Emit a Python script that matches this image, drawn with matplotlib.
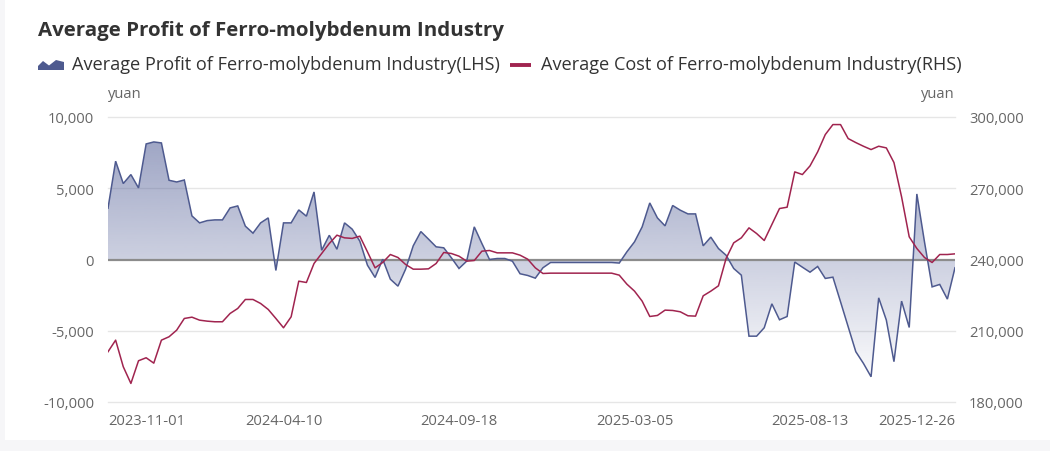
import matplotlib
matplotlib.use('Agg')
import matplotlib.pyplot as plt
import numpy as np
from matplotlib.patches import Polygon, Rectangle
from matplotlib.ticker import FuncFormatter

# ---------------- data ----------------
profit = [3600, 6900, 5330, 5960, 5020, 8110, 8250, 8180, 5560, 5440,
          5580, 3060, 2570, 2730, 2780, 2780, 3620, 3760, 2340, 1850,
          2570, 2920, -770, 2570, 2570, 3480, 3040, 4740, 650, 1700,
          720, 2570, 2130, 1290, -400, -1260, 20, -1380, -1870, -680,
          960, 1960, 1430, 890, 820, 120, -630, -120, 2290, 1120,
          0, 70, 70, -120, -1000, -1120, -1310, -580, -210, -210,
          -210, -210, -210, -210, -210, -210, -210, -250, 540, 1240,
          2290, 3970, 2920, 2360, 3790, 3460, 3200, 3200, 960, 1570,
          770, 300, -630, -1100, -5380, -5380, -4790, -3110, -4230, -4000,
          -180, -540, -890, -490, -1330, -1240, -2970, -4720, -6470, -7290,
          -8230, -2690, -4250, -7170, -2920, -4770, 4600, 1240, -1920, -1750,
          -2780, -580]

cost = [201160, 206040, 194850, 187820, 197370, 198630, 196360, 206040, 207470, 210250,
        215170, 215720, 214460, 214040, 213780, 213780, 217280, 219380, 223170, 223170,
        221480, 218960, 215170, 211250, 215870, 230880, 230320, 238320, 242520, 246730,
        250240, 249120, 248880, 249820, 243230, 236490, 238740, 242100, 240840, 237900,
        235930, 235930, 236070, 238320, 242950, 242520, 241400, 239300, 239580, 243510,
        243790, 242800, 242800, 242800, 241820, 240140, 236490, 234110, 234250, 234250,
        234250, 234250, 234250, 234250, 234250, 234250, 234250, 233410, 229620, 226680,
        222470, 216010, 216440, 218680, 218540, 217980, 216300, 216160, 224710, 226680,
        228920, 240420, 247010, 249120, 253320, 250940, 248000, 254730, 261460, 262020,
        276890, 275770, 279410, 285310, 292600, 296810, 296810, 290920, 289230, 287690,
        286290, 287690, 286990, 280820, 266370, 249540, 244630, 240840, 238740, 242100,
        242100, 242380]

tick_labels = ['2023-11-01', '2024-04-10', '2024-09-18', '2025-03-05', '2025-08-13', '2025-12-26']
label_interval = 23

left_ticks = [-10000, -5000, 0, 5000, 10000]
right_ticks = [180000, 210000, 240000, 270000, 300000]

title = 'Average Profit of Ferro-molybdenum Industry'
name_profit = 'Average Profit of Ferro-molybdenum Industry(LHS)'
name_cost = 'Average Cost of Ferro-molybdenum Industry(RHS)'

# ---------------- style ----------------
W, H = 1050, 452
FONT = 'Open Sans'
plt.rcParams['font.family'] = [FONT, 'DejaVu Sans']
C_PROFIT = '#4e5a8f'
C_COST = '#a0244f'
C_TICK = '#666666'
C_GRID = '#e6e6e6'


def px(x, y):
    return (x / W, 1 - y / H)


fig = plt.figure(figsize=(W / 100, H / 100), dpi=100)
fig.patch.set_facecolor('#f6f6f8')
card = Rectangle(px(5, 441), (W - 5) / W, 441 / H, transform=fig.transFigure,
                 facecolor='white', edgecolor='none', zorder=-5)
fig.patches.append(card)

L, R, T, B = 108, 955, 118, 403
ax = fig.add_axes([L / W, (H - B) / H, (R - L) / W, (B - T) / H])
ax.patch.set_alpha(0)
n = len(profit)
x = np.arange(n)

# gradient area fill
verts = [(0, 0)] + list(zip(x, profit)) + [(n - 1, 0)]
clip = Polygon(verts, closed=True, transform=ax.transData)
pmin, pmax = min(profit), max(profit)
alpha = np.linspace(0.54, 0.03, 256)
rgb = np.array([78, 91, 148]) / 255.0
img = np.zeros((256, 1, 4))
img[:, 0, :3] = rgb
img[:, 0, 3] = alpha
im = ax.imshow(img, extent=(0, n - 1, pmin, pmax), origin='upper', aspect='auto',
               interpolation='bilinear', zorder=1)
im.set_clip_path(clip)

ax.plot(x, profit, color=C_PROFIT, lw=1.1, zorder=4, solid_joinstyle='miter')
ax.axhline(0, color='#8c8c8c', lw=1.6, zorder=3)

ax.set_xlim(0, n - 1)
ax.set_ylim(-10000, 10000)
ax.set_yticks(left_ticks)
ax.yaxis.set_major_formatter(FuncFormatter(lambda v, p: f'{int(v):,}'))
for yv in left_ticks:
    if yv != 0:
        ax.axhline(yv, color=C_GRID, lw=1.0, zorder=0.5, clip_on=False)
for s in ax.spines.values():
    s.set_visible(False)
ax.tick_params(axis='y', length=0, pad=10, labelcolor=C_TICK, labelsize=10.6)

tick_idx = [i * label_interval for i in range(len(tick_labels) - 1)] + [n - 1]
ax.set_xticks(tick_idx)
ax.set_xticklabels(tick_labels)
ax.tick_params(axis='x', length=0, pad=8, labelcolor=C_TICK, labelsize=10.6)
tl = ax.get_xticklabels()
tl[0].set_ha('left')
tl[-1].set_ha('right')

ax2 = ax.twinx()
ax2.plot(x, cost, color=C_COST, lw=1.1, zorder=5)
ax2.set_ylim(180000, 300000)
ax2.set_yticks(right_ticks)
ax2.yaxis.set_major_formatter(FuncFormatter(lambda v, p: f'{int(v):,}'))
for s in ax2.spines.values():
    s.set_visible(False)
ax2.tick_params(axis='y', length=0, pad=10, labelcolor=C_TICK, labelsize=10.6)

# ---------------- texts ----------------
r = fig.canvas.get_renderer()


def fit(t, target):
    w = t.get_window_extent(r).width
    t.set_fontsize(t.get_fontsize() * target / w)


t_title = fig.text(*px(38, 31), title, fontsize=13, fontweight='bold', color='#333333',
                   ha='left', va='center')
fit(t_title, 462)

t_l1 = fig.text(*px(72, 65), name_profit, fontsize=12, color='#333333', ha='left', va='center')
fit(t_l1, 425)
t_l2 = fig.text(*px(541, 65), name_cost, fontsize=t_l1.get_fontsize(), color='#333333',
                ha='left', va='center')

# legend icons
icon = [(38, 71), (38, 67), (43, 62), (49, 66.5), (56, 61), (64, 63), (64, 71)]
fig.patches.append(Polygon([px(a, b) for a, b in icon], closed=True, transform=fig.transFigure,
                           facecolor=C_PROFIT, edgecolor='none', zorder=3))
fig.lines.append(plt.Line2D([510 / W, 531 / W], [1 - 66 / H, 1 - 66 / H], transform=fig.transFigure,
                            color=C_COST, lw=2.8, solid_capstyle='butt'))

fig.text(*px(108, 95), 'yuan', fontsize=10.6, color=C_TICK, ha='left', va='center')
fig.text(*px(955, 95), 'yuan', fontsize=10.6, color=C_TICK, ha='right', va='center')

fig.savefig('out.png', dpi=100, facecolor=fig.get_facecolor())
